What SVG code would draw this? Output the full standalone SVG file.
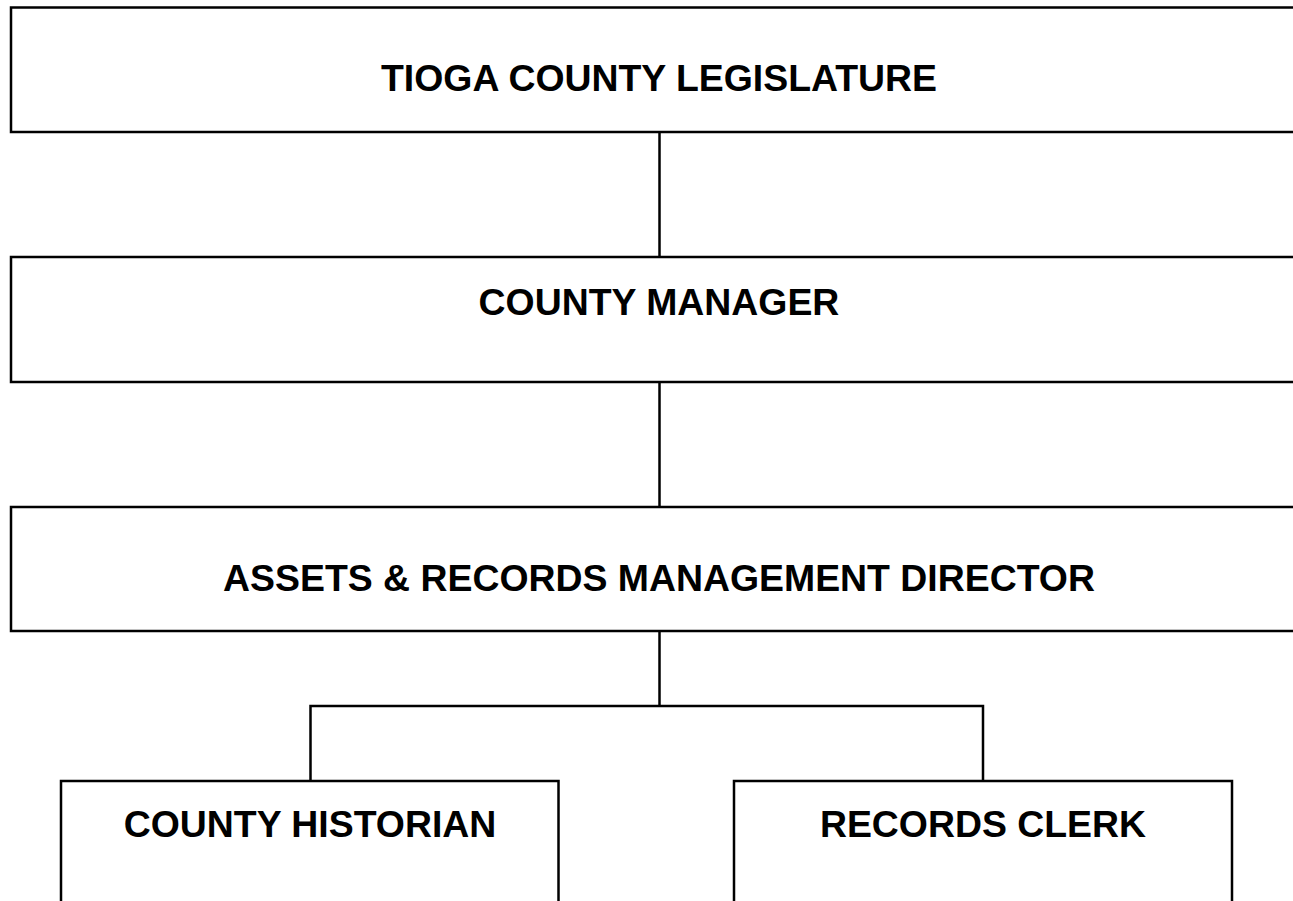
<svg xmlns="http://www.w3.org/2000/svg" width="1293" height="901" viewBox="0 0 1293 901">
<style>
.box{fill:#fff;stroke:#000;stroke-width:2.5}
.lbl{font-family:"Liberation Sans",Arial,sans-serif;font-weight:bold;font-size:37.4px;text-anchor:middle;fill:#000}
.con{fill:none;stroke:#000;stroke-width:2.5}
</style>
<rect width="1293" height="901" fill="#fff"/>
<g id="connectors">
<line class="con" x1="659.5" y1="132" x2="659.5" y2="257"/>
<line class="con" x1="659.5" y1="382" x2="659.5" y2="507"/>
<line class="con" x1="659.5" y1="631" x2="659.5" y2="706"/>
<polyline class="con" points="310.5,781 310.5,706 983,706 983,781"/>
</g>
<g id="legislature">
<rect class="box" x="11" y="7.5" width="1296" height="124.5"/>
<text class="lbl" x="659" y="91">TIOGA COUNTY LEGISLATURE</text>
</g>
<g id="manager">
<rect class="box" x="11" y="257" width="1296" height="125"/>
<text class="lbl" x="659" y="315">COUNTY MANAGER</text>
</g>
<g id="director">
<rect class="box" x="11" y="507" width="1296" height="124"/>
<text class="lbl" x="659" y="591">ASSETS &amp; RECORDS MANAGEMENT DIRECTOR</text>
</g>
<g id="historian">
<rect class="box" x="61" y="781" width="497.5" height="140"/>
<text class="lbl" x="310" y="837">COUNTY HISTORIAN</text>
</g>
<g id="clerk">
<rect class="box" x="734" y="781" width="498" height="140"/>
<text class="lbl" x="983" y="837">RECORDS CLERK</text>
</g>
</svg>
